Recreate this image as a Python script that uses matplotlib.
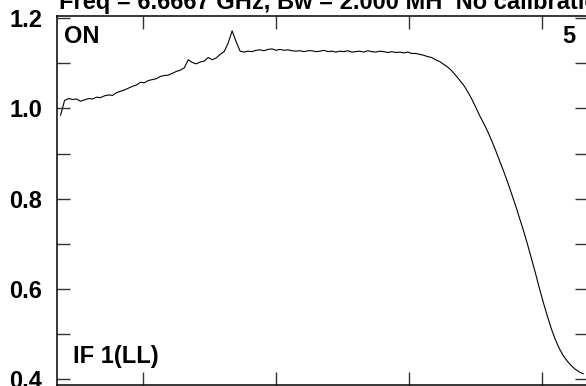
import numpy as np
import matplotlib
matplotlib.use("Agg")
import matplotlib.pyplot as plt
from matplotlib.ticker import MultipleLocator, FixedLocator, NullFormatter

plt.rcParams['font.family'] = ['Liberation Sans', 'DejaVu Sans']

# channel axis (regular channel grid)
channels = np.arange(38, 432, 3)

# amplitude
amplitude = [
    0.985, 1.018, 1.022, 1.020, 1.021, 1.016, 1.019, 1.022, 1.021, 1.025,
    1.024, 1.028, 1.030, 1.029, 1.035, 1.038, 1.041, 1.045, 1.049, 1.052,
    1.058, 1.057, 1.062, 1.064, 1.066, 1.071, 1.073, 1.074, 1.078, 1.082,
    1.085, 1.090, 1.108, 1.102, 1.099, 1.103, 1.105, 1.113, 1.108, 1.112,
    1.120, 1.126, 1.145, 1.172, 1.148, 1.127, 1.125, 1.127, 1.126, 1.129,
    1.130, 1.128, 1.131, 1.132, 1.129, 1.131, 1.129, 1.130, 1.128, 1.127,
    1.128, 1.126, 1.128, 1.128, 1.126, 1.127, 1.129, 1.126, 1.127, 1.125,
    1.127, 1.126, 1.128, 1.125, 1.126, 1.127, 1.125, 1.128, 1.126, 1.125,
    1.127, 1.126, 1.124, 1.126, 1.124, 1.125, 1.123, 1.125, 1.122, 1.122,
    1.120, 1.118, 1.115, 1.113, 1.108, 1.104, 1.098, 1.092, 1.084, 1.074,
    1.063, 1.052, 1.038, 1.022, 1.004, 0.985, 0.968, 0.950, 0.930, 0.908,
    0.885, 0.862, 0.838, 0.812, 0.786, 0.758, 0.730, 0.700, 0.668, 0.636,
    0.602, 0.570, 0.540, 0.512, 0.488, 0.468, 0.452, 0.440, 0.430, 0.422,
    0.416, 0.412,
]

x_ticks = [100, 200, 300, 400]
y_major = [0.4, 0.6, 0.8, 1.0, 1.2]
title = "Freq = 6.6667 GHz, Bw = 2.000 MH  No calibration"
label_on = "ON"
label_num = "5"
label_if = "IF 1(LL)"

fig = plt.figure(figsize=(5.86, 3.86), dpi=100)
ax = fig.add_axes([57/586, 1/386, 531/586, 369/386])
ax.plot(channels, amplitude, color='black', lw=0.8)

ax.set_xlim(35.3, 434.6)
ax.set_ylim(0.387, 1.205)

fs = 17

ax.xaxis.set_major_locator(FixedLocator(x_ticks))
ax.xaxis.set_major_formatter(NullFormatter())
ax.yaxis.set_major_locator(FixedLocator(y_major))
ax.yaxis.set_minor_locator(MultipleLocator(0.1))
ax.set_yticklabels([f"{v:.1f}" for v in y_major], fontsize=fs, fontweight='bold')

ax.tick_params(axis='both', which='both', direction='in', length=9.4, width=1.0,
               top=True, right=True, colors='#333333', labelcolor='black')
ax.tick_params(axis='y', pad=10.5)
for s in ax.spines.values():
    s.set_linewidth(1.1)

ax.text((64-57)/531, (385-43)/369, label_on, transform=ax.transAxes,
        fontsize=fs, fontweight='bold', va='baseline', ha='left')
ax.text((562-57)/531, (385-43)/369, label_num, transform=ax.transAxes,
        fontsize=fs, fontweight='bold', va='baseline', ha='left')
ax.text((73-57)/531, (385-363)/369, label_if, transform=ax.transAxes,
        fontsize=fs, fontweight='bold', va='baseline', ha='left')

fig.text(59/586, 1 - 9.5/386, title, fontsize=fs, fontweight='bold',
         va='baseline', ha='left')

fig.savefig("out.png", dpi=100)
